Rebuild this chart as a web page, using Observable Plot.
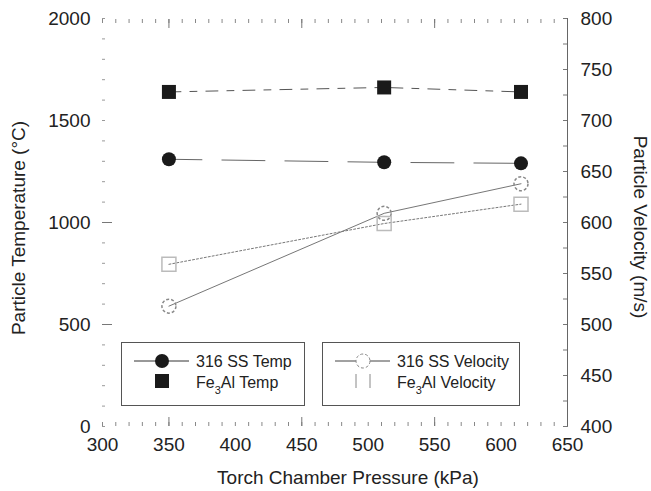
<!DOCTYPE html>
<html><head><meta charset="utf-8">
<script src="https://cdn.jsdelivr.net/npm/d3@7"></script>
<script src="https://cdn.jsdelivr.net/npm/@observablehq/plot@0.6"></script>
<style>body{margin:0;background:#fff}#chart{width:651px;height:491px}</style>
</head><body><div id="chart"></div>
<script>
// ---- data ----
const pressure = [350, 512, 615];          // kPa
const ssTemp   = [1310, 1295, 1290];       // °C, 316 SS
const feTemp   = [1640, 1662, 1640];       // °C, Fe3Al
const ssVel    = [518, 609, 638];          // m/s, 316 SS
const feVel    = [559, 599, 618];          // m/s, Fe3Al
const xDomain = [300, 650];
const tempDomain = [0, 2000];
const velDomain = [400, 800];
const xTickLabels = [300, 350, 400, 450, 500, 550, 600, 650];
const tempTickLabels = [0, 500, 1000, 1500, 2000];
const velTickLabels = [400, 450, 500, 550, 600, 650, 700, 750, 800];

// map velocity onto the temperature scale (secondary axis)
const v2t = v => (v - velDomain[0]) * (tempDomain[1] - tempDomain[0]) / (velDomain[1] - velDomain[0]) + tempDomain[0];
const t2v = t => (t - tempDomain[0]) * (velDomain[1] - velDomain[0]) / (tempDomain[1] - tempDomain[0]) + velDomain[0];

const rows = pressure.map((p, i) => ({p, ss: ssTemp[i], fe: feTemp[i], ssv: v2t(ssVel[i]), fev: v2t(feVel[i])}));

const ink = "#222";
const svg = Plot.plot({
  width: 651, height: 491,
  marginLeft: 102, marginRight: 84, marginTop: 18, marginBottom: 65,
  style: {fontFamily: "Liberation Sans, Arial, sans-serif", fontSize: "19px", color: ink, background: "#fff"},
  x: {domain: xDomain},
  y: {domain: tempDomain},
  marks: [
    // tick marks (inward)
    Plot.axisX(d3.range(300, 651, 10), {anchor: "bottom", tickSize: 4, dy: -4, fill: "none", stroke: "#888", label: null}),
    Plot.axisX([350, 450, 550], {anchor: "bottom", tickSize: 9, dy: -9, fill: "none", stroke: "#777", label: null}),
    Plot.axisX(d3.range(300, 651, 10), {anchor: "top", tickSize: 4, dy: 4, fill: "none", stroke: "#888", label: null}),
    Plot.axisX([350, 450, 550], {anchor: "top", tickSize: 9, dy: 9, fill: "none", stroke: "#777", label: null}),
    Plot.axisY(d3.range(0, 2001, 100), {anchor: "left", tickSize: 3, dx: 3, fill: "none", stroke: "#999", label: null}),
    Plot.axisY([500, 1000], {anchor: "left", tickSize: 10, dx: 10, fill: "none", stroke: "#777", label: null}),
    Plot.axisY(d3.range(400, 801, 25).map(v2t), {anchor: "right", tickSize: 5, dx: -5, fill: "none", stroke: "#777", label: null}),
    Plot.ruleX([xDomain[1]], {stroke: "#666", strokeWidth: 1}),
    // tick labels
    Plot.axisX(xTickLabels, {anchor: "bottom", tickSize: 0, tickPadding: 11, label: null, fill: ink, tickFormat: d => String(d)}),
    Plot.axisY(tempTickLabels, {anchor: "left", tickSize: 0, tickPadding: 12, label: null, fill: ink, tickFormat: d => String(d)}),
    Plot.axisY(velTickLabels.map(v2t), {anchor: "right", tickSize: 0, tickPadding: 13, label: null, fill: ink, tickFormat: d => String(Math.round(t2v(d)))}),
    // lines
    Plot.lineY(rows, {x: "p", y: "fe", stroke: "#555", strokeWidth: 1, strokeDasharray: "12,9,7,9"}),
    Plot.lineY(rows, {x: "p", y: "ss", stroke: "#666", strokeWidth: 1, strokeDasharray: "43,20", strokeDashoffset: 10}),
    Plot.lineY(rows, {x: "p", y: "ssv", stroke: "#666", strokeWidth: 0.9}),
    Plot.lineY(rows, {x: "p", y: "fev", stroke: "#777", strokeWidth: 1, strokeDasharray: "2,2"}),
    // markers
    Plot.dot(rows, {x: "p", y: "ss", r: 7, fill: "#1a1a1a", stroke: "none"}),
    Plot.dot(rows, {x: "p", y: "fe", r: 7.9, symbol: "square", fill: "#1a1a1a", stroke: "none"}),
    Plot.dot(rows, {x: "p", y: "ssv", r: 7, fill: "none", stroke: "#888", strokeDasharray: "3,2"}),
    Plot.dot(rows, {x: "p", y: "fev", r: 7.9, symbol: "square", fill: "none", stroke: "#bbb"})
  ]
});

const s = d3.select(svg);
const ff = "Liberation Sans, Arial, sans-serif";
// axis titles
s.append("text").attr("transform", "translate(25,228) rotate(-90)").attr("text-anchor", "middle")
  .attr("font-size", 19).attr("font-family", ff).attr("fill", ink).text("Particle Temperature (°C)");
s.append("text").attr("transform", "translate(634,227) rotate(90)").attr("text-anchor", "middle")
  .attr("font-size", 19).attr("font-family", ff).attr("fill", ink).text("Particle Velocity (m/s)");
s.append("text").attr("x", 348).attr("y", 484).attr("text-anchor", "middle")
  .attr("font-size", 19).attr("font-family", ff).attr("fill", ink).text("Torch Chamber Pressure (kPa)");

// legends
function label(t, x, y, txt) {
  return t.append("text").attr("x", x).attr("y", y).attr("text-anchor", "start")
    .attr("font-size", 16).attr("font-family", ff).attr("fill", ink).text(txt);
}
function sub(t, pre, post, x, y) {
  const el = t.append("text").attr("x", x).attr("y", y).attr("text-anchor", "start")
    .attr("font-size", 16).attr("font-family", ff).attr("fill", ink);
  el.append("tspan").text(pre);
  el.append("tspan").attr("font-size", 11).attr("dy", 6).text("3");
  el.append("tspan").attr("dy", -6).text(post);
}
const g1 = s.append("g");
g1.append("rect").attr("x", 121.5).attr("y", 342.5).attr("width", 183).attr("height", 63).attr("fill", "#fff").attr("stroke", "#555");
g1.append("line").attr("x1", 134).attr("x2", 189).attr("y1", 361).attr("y2", 361).attr("stroke", "#333");
g1.append("circle").attr("cx", 162).attr("cy", 361).attr("r", 7).attr("fill", "#1a1a1a");
g1.append("rect").attr("x", 155).attr("y", 374).attr("width", 14).attr("height", 14).attr("fill", "#1a1a1a");
label(g1, 196, 367, "316 SS Temp");
sub(g1, "Fe", "Al Temp", 196, 388);

const g2 = s.append("g");
g2.append("rect").attr("x", 322.5).attr("y", 342.5).attr("width", 197).attr("height", 63).attr("fill", "#fff").attr("stroke", "#555");
g2.append("line").attr("x1", 335).attr("x2", 390).attr("y1", 361).attr("y2", 361).attr("stroke", "#444");
g2.append("circle").attr("cx", 363).attr("cy", 361).attr("r", 7).attr("fill", "#fff").attr("stroke", "#888").attr("stroke-dasharray", "3,2");
g2.append("line").attr("x1", 356).attr("x2", 356).attr("y1", 374).attr("y2", 388).attr("stroke", "#888");
g2.append("line").attr("x1", 370).attr("x2", 370).attr("y1", 374).attr("y2", 388).attr("stroke", "#888");
label(g2, 397, 367, "316 SS Velocity");
sub(g2, "Fe", "Al Velocity", 397, 388);

document.getElementById("chart").appendChild(svg);
</script>
</body></html>
